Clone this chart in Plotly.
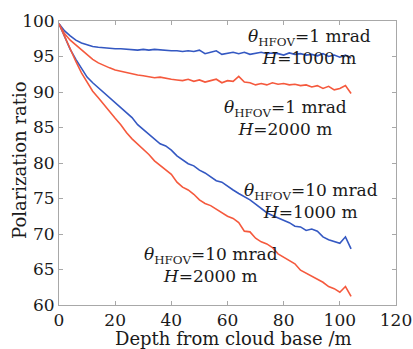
import plotly.graph_objects as go

depth = list(range(0, 105, 2))

pr_1mrad_1000m = [99.6, 98.6, 97.9, 97.3, 96.9, 96.6, 96.4, 96.3, 96.2, 96.2, 96.1, 96.1, 96.0, 96.0,
                  95.9, 96.0, 95.9, 96.0, 95.9, 95.9, 95.8, 95.8, 95.7, 95.8, 95.7, 95.9, 95.4, 95.6,
                  95.8, 95.3, 95.5, 95.6, 95.4, 95.6, 95.3, 95.5, 95.6, 95.4, 95.5, 95.4, 95.2, 95.5,
                  95.3, 95.4, 95.2, 95.3, 95.1, 95.4, 95.0, 95.2, 94.9, 95.2, 94.8]
pr_1mrad_2000m = [99.6, 98.2, 97.3, 96.6, 96.0, 95.2, 94.6, 94.1, 93.7, 93.4, 93.1, 92.9, 92.7, 92.5,
                  92.4, 92.3, 92.2, 92.0, 92.1, 91.9, 91.8, 91.7, 91.6, 91.8, 91.5, 91.7, 91.4, 91.6,
                  91.8, 91.3, 91.6, 91.5, 92.2, 91.4, 91.3, 91.0, 91.2, 91.0, 91.3, 91.1, 91.2, 91.0,
                  91.1, 90.9, 91.0, 90.7, 90.9, 90.5, 90.8, 90.3, 90.5, 90.9, 89.8]
pr_10mrad_1000m = [99.6, 97.8, 96.0, 94.6, 93.3, 92.1, 91.3, 90.6, 90.0, 89.3, 88.6, 87.9, 87.1, 86.4,
                   85.4, 84.7, 84.0, 83.3, 82.7, 82.4, 81.8, 81.0, 80.5, 79.9, 79.6, 79.0, 78.6, 78.1,
                   77.5, 77.3, 76.7, 76.2, 75.7, 75.3, 74.8, 74.2, 73.6, 73.0, 72.6, 72.3, 71.9, 71.6,
                   71.1, 71.0, 70.5, 70.7, 70.4, 69.6, 69.2, 68.9, 68.7, 69.6, 67.9]
pr_10mrad_2000m = [99.6, 97.8, 96.2, 94.3, 92.7, 91.3, 90.1, 89.2, 88.2, 87.3, 86.3, 85.4, 84.3, 83.4,
                   82.7, 81.9, 81.2, 80.3, 79.7, 79.0, 78.4, 77.3, 76.6, 76.2, 75.6, 74.8, 74.3, 74.0,
                   73.5, 73.0, 72.5, 72.2, 71.6, 70.4, 70.3, 69.4, 68.9, 68.6, 68.1, 67.2, 66.7, 66.3,
                   65.8, 64.9, 64.5, 64.0, 63.6, 63.2, 62.6, 62.3, 61.8, 62.6, 61.2]

x_ticks = [0, 20, 40, 60, 80, 100, 120]
y_ticks = [60, 65, 70, 75, 80, 85, 90, 95, 100]

BLUE = "#3458c2"
RED = "#f5593d"
FONT = "DejaVu Serif"

fig = go.Figure()
for ys, col in [(pr_1mrad_1000m, BLUE), (pr_1mrad_2000m, RED),
                (pr_10mrad_1000m, BLUE), (pr_10mrad_2000m, RED)]:
    fig.add_trace(go.Scatter(x=depth, y=ys, mode="lines",
                             line=dict(color=col, width=1.6), showlegend=False))

labels = [
    ("<i>θ</i><sub>HFOV</sub>=1 mrad<br><i>H</i>=1000 m", 89.2, 96.4),
    ("<i>θ</i><sub>HFOV</sub>=1 mrad<br><i>H</i>=2000 m", 80.7, 86.3),
    ("<i>θ</i><sub>HFOV</sub>=10 mrad<br><i>H</i>=1000 m", 89.9, 74.6),
    ("<i>θ</i><sub>HFOV</sub>=10 mrad<br><i>H</i>=2000 m", 54.0, 65.6),
]
for txt, ax, ay in labels:
    fig.add_annotation(x=ax, y=ay, xref="x", yref="y", text=txt, showarrow=False,
                       xanchor="center", yanchor="middle",
                       font=dict(family=FONT, size=17, color="#1a1a1a"))

fig.add_annotation(text="Polarization ratio", xref="paper", yref="paper",
                   x=-0.1157, y=0.5106, textangle=-90, showarrow=False,
                   xanchor="center", yanchor="middle",
                   font=dict(family=FONT, size=18, color="#1a1a1a"))
fig.add_annotation(text="Depth from cloud base /m", xref="paper", yref="paper",
                   x=0.519, y=-0.1197, showarrow=False,
                   xanchor="center", yanchor="middle",
                   font=dict(family=FONT, size=18, color="#1a1a1a"))

axis_common = dict(showgrid=False, zeroline=False, showline=True, linecolor="#a8a8a8",
                   linewidth=1, mirror="ticks", ticks="inside", ticklen=4, automargin=False,
                   tickcolor="#a8a8a8", tickfont=dict(family=FONT, size=17, color="#1a1a1a"))

fig.update_xaxes(range=[0, 120], tickvals=x_ticks, ticktext=[str(v) for v in x_ticks],
                 **axis_common)
fig.update_yaxes(range=[60, 100], tickvals=y_ticks, ticktext=[str(v) for v in y_ticks],
                 **axis_common)

fig.update_layout(width=413, height=349, margin=dict(l=59, r=17, t=21, b=44),
                  paper_bgcolor="white", plot_bgcolor="white")

# remove the default 8px page margin so the 413x349 figure fills the window exactly
fig.write_html("out.html", config={"displayModeBar": False},
               post_script="document.body.style.margin='0';document.body.style.overflow='hidden';")
